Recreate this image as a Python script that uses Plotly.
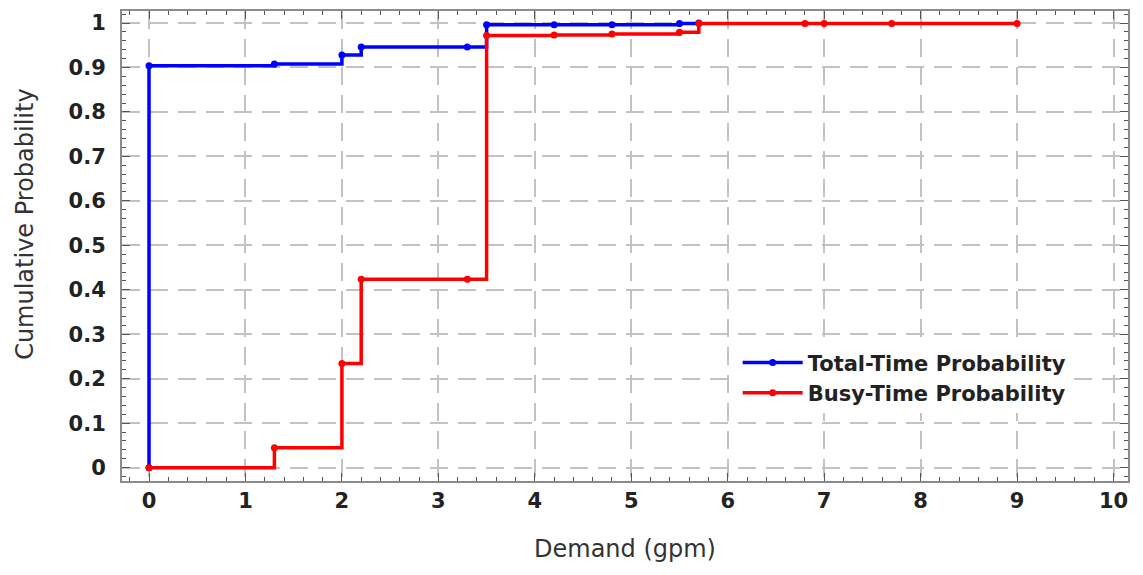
import plotly.graph_objects as go

# Step data (x = demand gpm, y = cumulative probability at each step point)
total_x = [0, 0, 1.3, 2.0, 2.2, 3.3, 3.5, 4.2, 4.8, 5.5, 5.7]
total_y = [0, 0.904, 0.908, 0.928, 0.946, 0.946, 0.996, 0.996, 0.996, 0.999, 1.0]

busy_x = [0, 1.3, 2.0, 2.2, 3.3, 3.5, 4.2, 4.8, 5.5, 5.7, 6.8, 7.0, 7.7, 9.0]
busy_y = [0, 0.045, 0.234, 0.424, 0.424, 0.972, 0.973, 0.975, 0.979, 0.999, 0.999, 0.999, 0.999, 0.999]

x_ticks = list(range(0, 11))
y_ticks = [0, 0.1, 0.2, 0.3, 0.4, 0.5, 0.6, 0.7, 0.8, 0.9, 1]
y_tick_text = ["0", "0.1", "0.2", "0.3", "0.4", "0.5", "0.6", "0.7", "0.8", "0.9", "1"]

fig = go.Figure()
fig.add_trace(go.Scatter(
    x=total_x, y=total_y, mode="lines+markers", line_shape="hv",
    name="Total-Time Probability",
    line=dict(color="#0000ff", width=3.5), marker=dict(color="#0000ff", size=7)))
fig.add_trace(go.Scatter(
    x=busy_x, y=busy_y, mode="lines+markers", line_shape="hv",
    name="Busy-Time Probability",
    line=dict(color="#ff0000", width=3.5), marker=dict(color="#ff0000", size=7)))

tickfont = dict(family="DejaVu Sans", size=21, color="#222222", weight="bold")
titlefont = dict(family="DejaVu Sans", size=24, color="#333333")
axis_common = dict(
    showline=True, linecolor="#8c8c8c", linewidth=2, mirror="allticks",
    ticks="inside", ticklen=8, tickcolor="#555555", tickwidth=1,
    showgrid=True, gridcolor="#c2c2c2", griddash="18px,10px", gridwidth=2,
    zeroline=False, tickfont=tickfont,
)

fig.update_xaxes(
    range=[-0.28, 10.15], tickvals=x_ticks,
    minor=dict(dtick=0.2, ticks="inside", ticklen=4, tickcolor="#555555", showgrid=False),
    title=dict(text="Demand (gpm)", font=titlefont, standoff=28),
    **axis_common)
fig.update_yaxes(
    range=[-0.03, 1.027], tickvals=y_ticks, ticktext=y_tick_text,
    minor=dict(dtick=0.02, ticks="inside", ticklen=4, tickcolor="#555555", showgrid=False),
    ticklabelstandoff=10,
    **axis_common)

fig.add_annotation(
    text="Cumulative Probability", textangle=-90,
    xref="paper", yref="paper", x=-0.0964, y=0.545,
    xanchor="center", yanchor="middle", showarrow=False, font=titlefont)

fig.update_layout(
    width=1135, height=567,
    margin=dict(l=114, r=15, t=1, b=94),
    paper_bgcolor="white", plot_bgcolor="white",
    legend=dict(x=0.612, y=0.295, xanchor="left", yanchor="top",
                bgcolor="white", borderwidth=0, itemwidth=60,
                font=dict(family="DejaVu Sans", size=21, color="#222222", weight="bold"),
                tracegroupgap=0),
    showlegend=True,
)

fig.write_html("out.html")
